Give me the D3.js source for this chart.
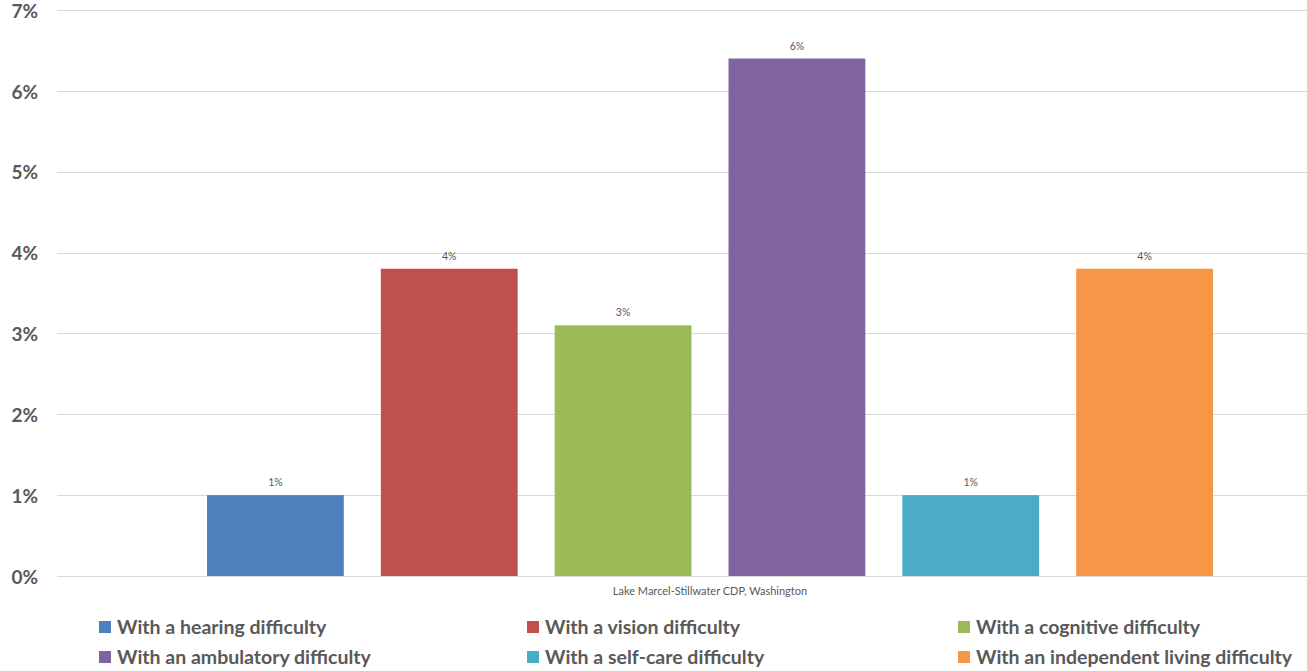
<!DOCTYPE html>
<html><head><meta charset="utf-8">
<script src="https://cdn.jsdelivr.net/npm/d3@7"></script>
<style>body{margin:0;background:#fff;}svg{display:block;}</style>
</head><body><svg id="c" width="1307" height="671"></svg>
<script>
const category = "Lake Marcel-Stillwater CDP, Washington";
const series = ["With a hearing difficulty","With a vision difficulty","With a cognitive difficulty","With an ambulatory difficulty","With a self-care difficulty","With an independent living difficulty"];
const values = [1.0, 3.8, 3.1, 6.4, 1.0, 3.8];
const labels = ["1%","4%","3%","6%","1%","4%"];
const colors = ["#4F81BD","#C0504D","#9BBB59","#8064A2","#4BACC6","#F79646"];
const yTicks = [0,1,2,3,4,5,6,7];

const svg = d3.select("#c");
const font = "Lato, 'Open Sans', sans-serif";
const y = d3.scaleLinear().domain([0,7]).range([576,10]);
const x = d3.scaleBand().domain(series).range([207,1213]).paddingInner(0.213).paddingOuter(0);

// gridlines
svg.append("g").selectAll("line").data(yTicks).join("line")
  .attr("x1",57).attr("x2",1307)
  .attr("y1",d=>Math.round(y(d))+0.5).attr("y2",d=>Math.round(y(d))+0.5)
  .attr("stroke","#d9d9d9").attr("stroke-width",1);

// y labels
svg.append("g").selectAll("text").data(yTicks).join("text")
  .attr("x",38).attr("y",d=>y(d)+1).attr("dy","0.35em")
  .attr("text-anchor","end").attr("font-family",font).attr("font-weight","bold")
  .attr("font-size",19).attr("fill","#595959").text(d=>d+"%");

// bars
svg.append("g").selectAll("rect").data(series).join("rect")
  .attr("x",d=>x(d)).attr("width",x.bandwidth())
  .attr("y",(d,i)=>y(values[i])).attr("height",(d,i)=>y(0)-y(values[i]))
  .attr("fill",(d,i)=>colors[i]);

// data labels
svg.append("g").selectAll("text").data(series).join("text")
  .attr("x",d=>x(d)+x.bandwidth()/2).attr("y",(d,i)=>y(values[i])-9)
  .attr("text-anchor","middle").attr("font-family",font)
  .attr("font-size",10.5).attr("fill","#595959").text((d,i)=>labels[i]);

// category label
svg.append("text").attr("x",710).attr("y",591).attr("dy","0.35em")
  .attr("text-anchor","middle").attr("font-family",font).attr("font-size",11)
  .attr("fill","#595959").text(category);

// legend
const colX = [99,527,958];
const rowY = [627,657];
const lg = svg.append("g").selectAll("g").data(series).join("g")
  .attr("transform",(d,i)=>`translate(${colX[i%3]},${rowY[Math.floor(i/3)]})`);
lg.append("rect").attr("x",0).attr("y",-6).attr("width",12).attr("height",12)
  .attr("fill",(d,i)=>colors[i]);
lg.append("text").attr("x",18).attr("y",0).attr("dy","0.35em")
  .attr("font-family",font).attr("font-weight","bold").attr("font-size",19.5)
  .attr("fill","#595959").text(d=>d);
</script></body></html>
